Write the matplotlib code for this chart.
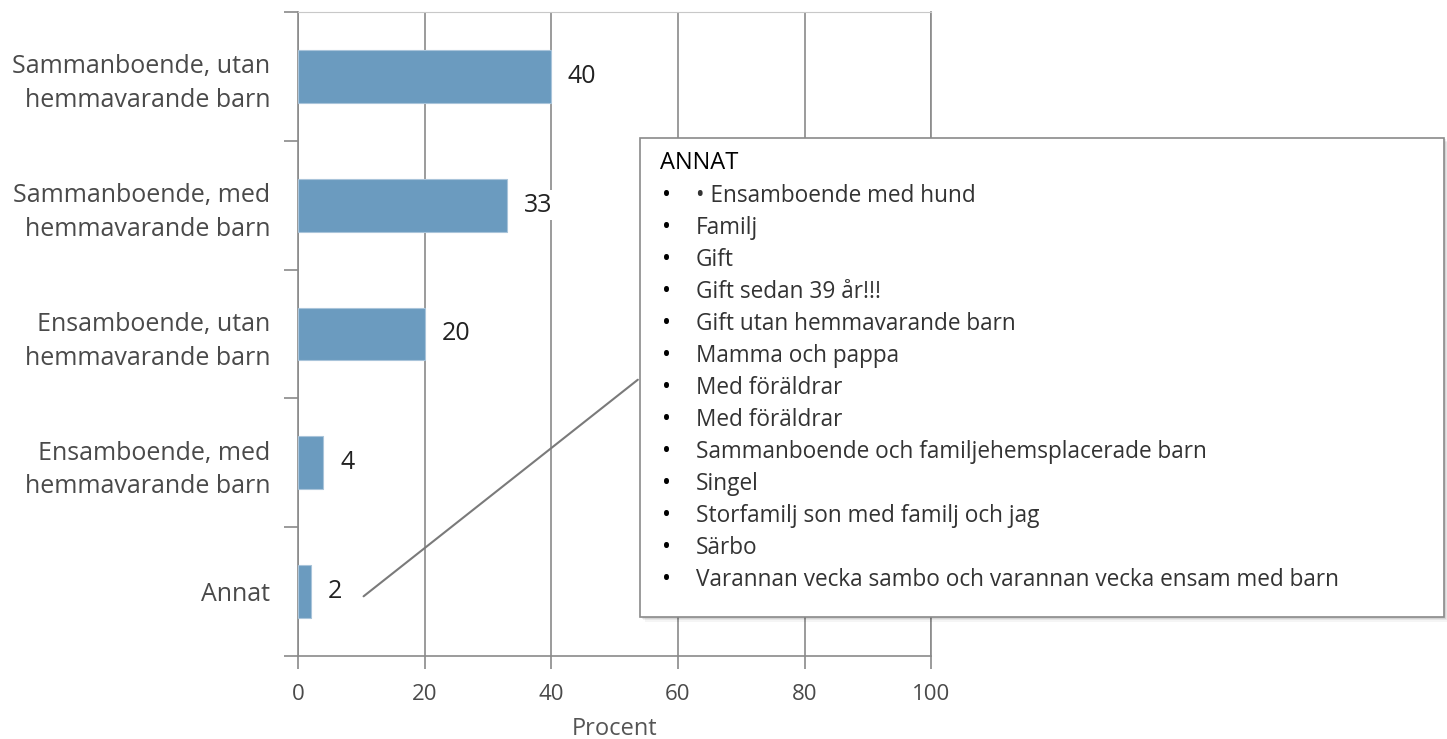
import matplotlib.pyplot as plt
from matplotlib.patches import Rectangle

plt.rcParams['font.family'] = ['Open Sans', 'DejaVu Sans']

categories = ["Sammanboende, utan\nhemmavarande barn",
              "Sammanboende, med\nhemmavarande barn",
              "Ensamboende, utan\nhemmavarande barn",
              "Ensamboende, med\nhemmavarande barn",
              "Annat"]
values = [40, 33, 20, 4, 2]
xticks = [0, 20, 40, 60, 80, 100]

annat_title = "ANNAT"
annat_items = ["\u2022 Ensamboende med hund",
               "Familj",
               "Gift",
               "Gift sedan 39 år!!!",
               "Gift utan hemmavarande barn",
               "Mamma och pappa",
               "Med föräldrar",
               "Med föräldrar",
               "Sammanboende och familjehemsplacerade barn",
               "Singel",
               "Storfamilj son med familj och jag",
               "Särbo",
               "Varannan vecka sambo och varannan vecka ensam med barn"]

bar_color = "#6b9bbf"
grid_color = "#8a8a8a"
text_color = "#4a4a4a"

fig = plt.figure(figsize=(14.47, 7.39), dpi=100)
ax = fig.add_axes([0.206, 0.1123, 0.4375, 0.8715])

ypos = list(range(len(categories)))
ax.barh(ypos, values, height=0.41, color=bar_color, edgecolor="#a9c4da", linewidth=0.8, zorder=3)
ax.set_ylim(len(categories) - 0.5, -0.5)
ax.set_xlim(0, 100)

ax.set_xticks(xticks)
ax.set_xticklabels([str(t) for t in xticks], fontsize=16, color=text_color)
ax.tick_params(axis='x', length=9, width=1.2, color=grid_color, pad=11)
ax.grid(axis='x', color=grid_color, linewidth=1.2, zorder=0)

ax.set_yticks(ypos)
ax.set_yticklabels(categories, fontsize=18, color=text_color, linespacing=1.45)
ax.tick_params(axis='y', length=0, pad=20)
ax.set_yticks([i - 0.5 for i in range(len(categories) + 1)], minor=True)
ax.tick_params(axis='y', which='minor', length=10, width=1.2, color=grid_color)

ax.set_xlabel("Procent", fontsize=17, color="#555555", labelpad=9)

for side in ['left', 'bottom']:
    ax.spines[side].set_color(grid_color)
    ax.spines[side].set_linewidth(1.2)
ax.spines['top'].set_color("#c8c8c8")
ax.spines['right'].set_color(grid_color)
ax.spines['right'].set_linewidth(1.2)

for y, v in zip(ypos, values):
    t = ax.annotate(str(v), xy=(v, y), xytext=(12, 0), textcoords='offset points',
                    va='center', ha='left', fontsize=18, color="#222222", zorder=4)
    if v == 33:
        t.set_bbox(dict(facecolor='white', edgecolor='none', pad=2))

# connector line from Annat label to callout box
ax.annotate("", xy=(10, 4.05), xycoords='data',
            xytext=(0.4423, 0.4885), textcoords='figure fraction',
            arrowprops=dict(arrowstyle='-', color="#7a7a7a", lw=1.5), zorder=5)

# callout box
bx0, by0, bw, bh = 640 / 1447, 1 - 617 / 739, 804 / 1447, 479 / 739
for i, a in enumerate([0.08, 0.06, 0.04]):
    off = (i + 1) * 1.5
    fig.patches.append(Rectangle((bx0 + off / 1447, by0 - off / 739), bw, bh,
                                 transform=fig.transFigure, facecolor='black', alpha=a,
                                 edgecolor='none', zorder=6))
fig.patches.append(Rectangle((bx0, by0), bw, bh, transform=fig.transFigure,
                             facecolor='white', edgecolor="#8a8a8a", linewidth=1.2, zorder=7))

fig.text(660 / 1447, 1 - 163 / 739, annat_title, fontsize=17, color='black',
         va='center', ha='left', zorder=8)
for i, item in enumerate(annat_items):
    yy = 1 - (196 + i * 32) / 739
    fig.text(662 / 1447, yy, "\u2022", fontsize=17, color='black', va='center', ha='left', zorder=8)
    fig.text(696 / 1447, yy, item, fontsize=16.3, color="#333333",
             va='center', ha='left', zorder=8)

fig.savefig("out.png", dpi=100)
